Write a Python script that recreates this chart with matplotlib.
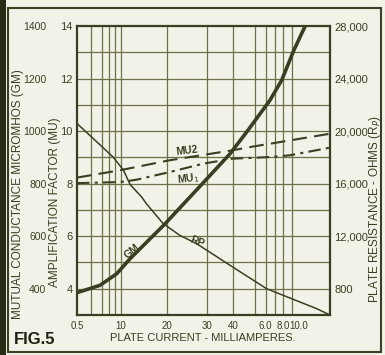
import numpy as np
import matplotlib
matplotlib.use("Agg")
import matplotlib.pyplot as plt
from matplotlib.patches import Rectangle

# curve readings, x in plate current (mA)
gm_ma = [0.5, 0.68, 0.93, 1.2, 1.55, 1.93, 2.91, 3.9, 4.63, 6.45, 7.84, 9.3, 10.8]
gm_umho = [385, 413, 457, 514, 576, 643, 803, 914, 997, 1117, 1194, 1308, 1400]

rp_ma = [0.5, 0.87, 1.06, 1.2, 1.45, 1.55, 1.91, 2.32, 2.75, 3.9, 6.1, 9.0, 12.3, 14]
rp_ohm = [20580, 18020, 17020, 15940, 14980, 14480, 12960, 12060, 11420, 9780, 8000, 7240, 6480, 6000]

mu2_ma = [0.5, 0.99, 2.06, 4.0, 4.76, 14]
mu2 = [8.23, 8.51, 8.89, 9.27, 9.39, 9.9]

mu1_ma = [0.5, 0.99, 1.34, 2.06, 2.91, 4.0, 6.4, 8.8, 14]
mu1 = [8.02, 8.06, 8.15, 8.44, 8.76, 8.95, 9.01, 9.08, 9.37]

x_tick_vals = [0.5, 1, 2, 3, 4, 6, 8, 10]
x_tick_text = ["0.5", "10", "20", "30", "40", "6.0", "8.0", "10.0"]
x_grid_vals = [0.6, 0.7, 0.8, 0.9, 1, 2, 3, 4, 5, 6, 7, 8, 9]
y_grid_vals = [4, 5, 6, 7, 8, 9, 10, 11, 12, 13]

mu_ticks = [4, 6, 8, 10, 12, 14]
gm_ticks = [400, 600, 800, 1000, 1200, 1400]
rp_ticks = [8000, 12000, 16000, 20000, 24000, 28000]
rp_text = ["800", "12,000", "16,000", "20,000", "24,000", "28,000"]

# the printed current scale is hand ruled, so map it piecewise
scale_ma = [0.5, 0.6, 0.7, 0.8, 0.9, 1, 2, 3, 4, 5, 6, 7, 8, 9, 10, 14]
scale_pos = [77, 90.7, 102.3, 109, 115, 120.7, 167.3, 206.7, 232.7, 255, 265.7, 275, 283, 291.7, 299, 330]


def fwd(v):
    return np.interp(v, scale_ma, scale_pos)


def inv(v):
    return np.interp(v, scale_pos, scale_ma)


INK = "#3b3e22"
GRID = "#6e7148"
PAPER = "#f3f2e8"
plt.rcParams["font.family"] = ["Liberation Sans", "DejaVu Sans"]

fig = plt.figure(figsize=(3.85, 3.55), dpi=100, facecolor=PAPER)
ax = fig.add_axes([77 / 385, 1 - 315 / 355, 253 / 385, 289 / 355])
ax.set_facecolor(PAPER)
ax.set_xscale("function", functions=(fwd, inv))
ax.set_xlim(0.5, 14)
ax.set_ylim(3, 14)

# grid
for v in x_grid_vals:
    ax.axvline(v, color=GRID, lw=0.9, zorder=1)
for v in y_grid_vals:
    ax.axhline(v, color=GRID, lw=0.9, zorder=1)

ax.set_xticks(x_tick_vals)
ax.set_xticklabels(x_tick_text)
ax.xaxis.set_minor_locator(plt.NullLocator())
ax.set_yticks(mu_ticks)
ax.tick_params(length=0, colors=INK, labelsize=8, pad=3)
ax.tick_params(axis="x", labelsize=7, pad=4)
for s in ax.spines.values():
    s.set_color(INK)
    s.set_linewidth(1.6)

ax.plot(mu2_ma, mu2, color=INK, lw=1.5, dashes=(7, 3.5), zorder=3)
ax.plot(mu1_ma, mu1, color=INK, lw=1.5, dashes=(6, 2.5, 1.5, 2.5), zorder=3)

ax_gm = ax.twinx()
ax_gm.set_ylim(300, 1400)
ax_gm.yaxis.tick_left()
ax_gm.set_yticks(gm_ticks)
ax_gm.tick_params(length=0, colors=INK, labelsize=7.5, pad=22)
ax_gm.plot(gm_ma, gm_umho, color=INK, lw=2.6, solid_capstyle="butt")

ax_rp = ax.twinx()
ax_rp.set_ylim(6000, 28000)
ax_rp.set_yticks(rp_ticks)
ax_rp.set_yticklabels(rp_text)
ax_rp.tick_params(length=0, colors=INK, labelsize=8, pad=3)
ax_rp.plot(rp_ma, rp_ohm, color=INK, lw=1.1)
for a in (ax_gm, ax_rp):
    for s in a.spines.values():
        s.set_visible(False)

# curve names
ax.text(0.217, 0.221, "GM", transform=ax.transAxes, rotation=40, color=INK,
        fontsize=7.5, fontweight="bold", ha="center", va="center")
ax.text(0.474, 0.253, "RP", transform=ax.transAxes, rotation=-22, color=INK,
        fontsize=7.5, fontweight="bold", ha="center", va="center")
ax.text(0.435, 0.57, "MU2", transform=ax.transAxes, rotation=7, color=INK,
        fontsize=7.5, fontweight="bold", ha="center", va="center")
ax.text(0.439, 0.47, "MU$_1$", transform=ax.transAxes, rotation=7, color=INK,
        fontsize=7.5, fontweight="bold", ha="center", va="center")

# axis titles
fig.text(0.047, 0.453, "MUTUAL CONDUCTANCE MICROMHOS (GM)", rotation=90,
         ha="center", va="center", color=INK, fontsize=8.5)
fig.text(0.143, 0.43, "AMPLIFICATION FACTOR (MU)", rotation=90,
         ha="center", va="center", color=INK, fontsize=8.5)
fig.text(0.975, 0.411, "PLATE RESISTANCE - OHMS (R$_P$)", rotation=90,
         ha="center", va="center", color=INK, fontsize=8.5)
fig.text(0.528, 0.049, "PLATE CURRENT - MILLIAMPERES.", ha="center", va="center",
         color=INK, fontsize=8)
fig.text(0.035, 0.045, "FIG.5", ha="left", va="center", color="#1f2010",
         fontsize=12, fontweight="bold")

# scan frame
fig.patches.append(Rectangle((8 / 385, 3 / 355), 373 / 385, 344 / 355,
                             transform=fig.transFigure, fill=False,
                             edgecolor=INK, lw=1.5))
fig.patches.append(Rectangle((0, 0), 6 / 385, 1, transform=fig.transFigure,
                             facecolor="#2a2c18", edgecolor="none"))

fig.savefig("out.png", dpi=100, facecolor=PAPER)
